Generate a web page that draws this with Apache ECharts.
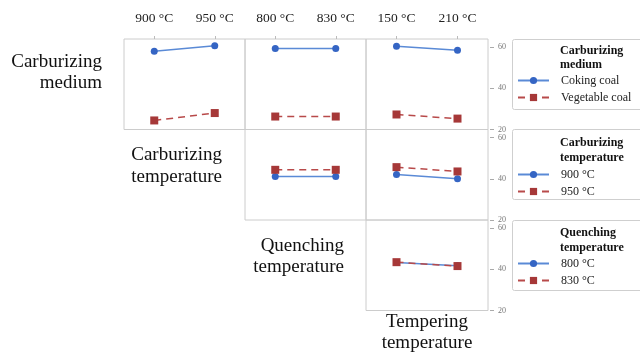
<html>
<head>
<meta charset="utf-8">
<title>Interaction plot</title>
<script src="https://cdn.jsdelivr.net/npm/echarts@6/dist/echarts.min.js"></script>
<style>
  body { margin: 0; background: #fff; }
  #chartmain { width: 640px; height: 352px; }
</style>
</head>
<body>
<div id="chartmain"></div>
<script type="text/javascript">
// category labels of the three column factors
var carbTempCats = ['900 °C', '950 °C'];
var quenchTempCats = ['800 °C', '830 °C'];
var temperTempCats = ['150 °C', '210 °C'];

// row 1: carburizing medium
var cokingVsCarbTemp = [58.1, 60.7];
var vegVsCarbTemp = [24.4, 28.0];
var cokingVsQuench = [59.4, 59.4];
var vegVsQuench = [26.3, 26.3];
var cokingVsTemper = [60.5, 58.5];
var vegVsTemper = [27.3, 25.3];
// row 2: carburizing temperature
var c900VsQuench = [41.1, 41.1];
var c950VsQuench = [44.4, 44.4];
var c900VsTemper = [42.1, 40.1];
var c950VsTemper = [45.7, 43.6];
// row 3: quenching temperature
var q800VsTemper = [43.3, 41.8];
var q830VsTemper = [43.5, 41.6];

var yTicks = [20, 40, 60];

var serif = '"Liberation Serif", "DejaVu Serif", serif';
var blue = '#3565c4';
var blueLine = '#5a8ad6';
var red = '#a63838';
var redLine = '#b84a4a';

var colLeft = [124, 245, 366];
var colWidth = [121, 121, 122];
var rowTop = [39, 129.5, 220];
var rowHeight = 90.5;

// panels: row, col, categories, blue values, red values, names
var panels = [
    [0, 0, carbTempCats, cokingVsCarbTemp, vegVsCarbTemp, 'Coking coal', 'Vegetable coal'],
    [0, 1, quenchTempCats, cokingVsQuench, vegVsQuench, 'Coking coal', 'Vegetable coal'],
    [0, 2, temperTempCats, cokingVsTemper, vegVsTemper, 'Coking coal', 'Vegetable coal'],
    [1, 1, quenchTempCats, c900VsQuench, c950VsQuench, '900 °C', '950 °C'],
    [1, 2, temperTempCats, c900VsTemper, c950VsTemper, '900 °C', '950 °C'],
    [2, 2, temperTempCats, q800VsTemper, q830VsTemper, '800 °C', '830 °C']
];

var grids = [], xAxes = [], yAxes = [], series = [];
panels.forEach(function (p, i) {
    var r = p[0], c = p[1];
    grids.push({
        left: colLeft[c], top: rowTop[r], width: colWidth[c], height: rowHeight,
        show: true, borderColor: '#cccccc', borderWidth: 1, backgroundColor: 'transparent'
    });
    xAxes.push({
        type: 'category', gridIndex: i, data: p[2], position: 'top',
        axisLine: { show: false },
        axisTick: { show: r === 0, length: 3, alignWithLabel: true, lineStyle: { color: '#bbb' } },
        axisLabel: { show: r === 0, margin: 14, fontFamily: serif, fontSize: 13.5, color: '#222' },
        splitLine: { show: false }
    });
    yAxes.push({
        type: 'value', gridIndex: i, min: 20, max: 64, interval: 20, position: 'right', offset: 2,
        show: c === 2,
        axisLine: { show: false },
        axisTick: { show: true, length: 4, customValues: yTicks, lineStyle: { color: '#aaa' } },
        axisLabel: {
            margin: 8, fontSize: 8, color: '#777', fontFamily: serif,
            customValues: yTicks
        },
        splitLine: { show: false }
    });
    series.push({
        name: p[5], type: 'line', xAxisIndex: i, yAxisIndex: i, data: p[3],
        symbol: 'circle', symbolSize: 7, color: blue,
        itemStyle: { color: blue },
        lineStyle: { color: blueLine, width: 1.5, type: 'solid' }
    });
    series.push({
        name: p[6], type: 'line', xAxisIndex: i, yAxisIndex: i, data: p[4],
        symbol: 'rect', symbolSize: 8, color: red,
        itemStyle: { color: red },
        lineStyle: { color: redLine, width: 1.5, type: [7, 5] }
    });
});

function legendAt(names, top) {
    return {
        data: names, orient: 'vertical', left: 517, top: top, padding: 0,
        itemWidth: 31, itemHeight: 9, itemGap: 5,
        selectedMode: false,
        textStyle: { fontFamily: serif, fontSize: 12, color: '#222', padding: [0, 0, 0, 7] }
    };
}

function box(y) {
    return {
        type: 'rect', shape: { x: 512.5, y: y + 0.5, width: 140, height: 70, r: 2 },
        style: { fill: 'none', stroke: '#cfcfcf', lineWidth: 1 }
    };
}

function txt(s, x, y, font, align) {
    return {
        type: 'text', x: x, y: y,
        style: { text: s, font: font, fill: '#111', align: align || 'left', verticalAlign: 'middle' }
    };
}

var bigFont = '19px ' + serif;
var boldFont = 'bold 12px ' + serif;

var myChart = echarts.init(document.getElementById('chartmain'));
myChart.setOption({
    animation: false,
    grid: grids,
    xAxis: xAxes,
    yAxis: yAxes,
    series: series,
    legend: [
        legendAt(['Coking coal', 'Vegetable coal'], 74.5),
        legendAt(['900 °C', '950 °C'], 168.5),
        legendAt(['800 °C', '830 °C'], 257.5)
    ],
    graphic: [
        box(39), box(129), box(220),
        txt('Carburizing', 560, 51, boldFont),
        txt('medium', 560, 64.5, boldFont),
        txt('Carburizing', 560, 143, boldFont),
        txt('temperature', 560, 158, boldFont),
        txt('Quenching', 560, 233, boldFont),
        txt('temperature', 560, 248, boldFont),
        txt('Carburizing', 102, 62, bigFont, 'right'),
        txt('medium', 102, 83, bigFont, 'right'),
        txt('Carburizing', 222, 155, bigFont, 'right'),
        txt('temperature', 222, 177, bigFont, 'right'),
        txt('Quenching', 344, 246, bigFont, 'right'),
        txt('temperature', 344, 267, bigFont, 'right'),
        txt('Tempering', 427, 322, bigFont, 'center'),
        txt('temperature', 427, 343, bigFont, 'center')
    ]
});
</script>
</body>
</html>
